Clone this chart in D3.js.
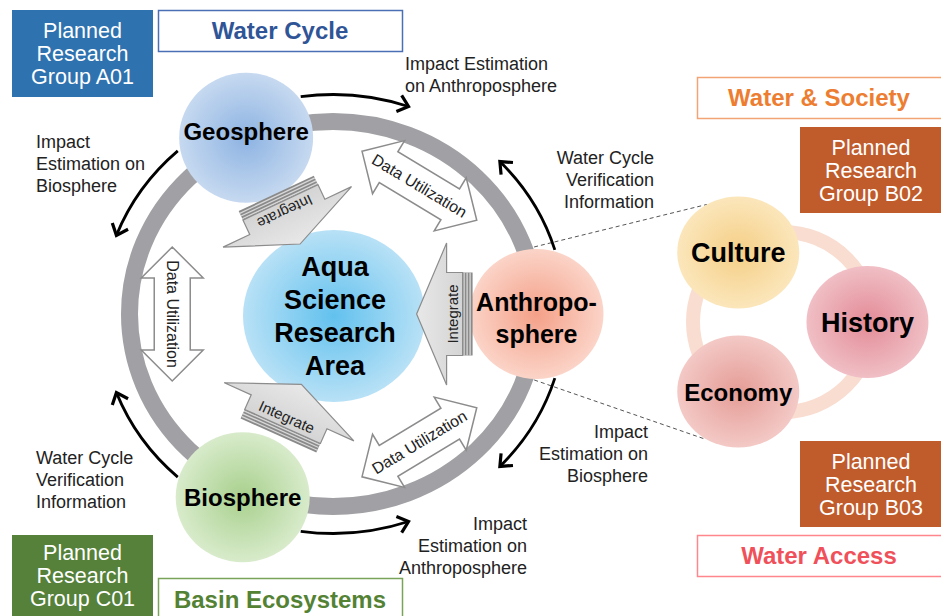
<!DOCTYPE html>
<html>
<head>
<meta charset="utf-8">
<script src="https://cdn.jsdelivr.net/npm/d3@7"></script>
<style>
body { margin: 0; background: #fff; }
svg { display: block; font-family: "Liberation Sans", Arial, sans-serif; }
</style>
</head>
<body>
<div id="chart-area"></div>
<script>
// ---- data ----
var spheres = ["Geosphere", "Anthroposphere", "Biosphere"];
var sphereLines = [["Geosphere"], ["Anthropo-", "sphere"], ["Biosphere"]];
var hubLines = ["Aqua", "Science", "Research", "Area"];

var flowFrom = ["Geosphere", "Geosphere", "Anthroposphere", "Anthroposphere", "Biosphere", "Biosphere"];
var flowTo   = ["Anthroposphere", "Biosphere", "Geosphere", "Biosphere", "Anthroposphere", "Geosphere"];
var flowText = [
    ["Impact Estimation", "on Anthroposphere"],
    ["Impact", "Estimation on", "Biosphere"],
    ["Water Cycle", "Verification", "Information"],
    ["Impact", "Estimation on", "Biosphere"],
    ["Impact", "Estimation on", "Anthroposphere"],
    ["Water Cycle", "Verification", "Information"]
];
var linkLabel = "Data Utilization";
var integrateLabel = "Integrate";

var societyTopics = ["Culture", "History", "Economy"];

var groupNames = [
    ["Planned", "Research", "Group A01"],
    ["Planned", "Research", "Group B02"],
    ["Planned", "Research", "Group B03"],
    ["Planned", "Research", "Group C01"]
];
var themeNames = ["Water Cycle", "Water & Society", "Water Access", "Basin Ecosystems"];

// ---- layout ----
var width = 941, height = 616;
var hub = { x: 333, y: 314, rx: 203.5, ry: 192.5, band: 17 };
var sphereAngle = d3.scaleOrdinal(spheres, [-115, 0, 115]);
var sphereOrbit = d3.scaleOrdinal(spheres, [1.01, 1.0, 1.05]);
var integrateAngle = d3.scaleOrdinal(spheres, [-114, 0, 113]);
var sphereColors = [["#8db3e2", "#c6d9f0"], ["#f4a088", "#fbd4c8"], ["#a8d08d", "#d8ebcb"]];
var hubColors = ["#62c1ee", "#b8e1f6"];

var society = { x: 783, y: 322, r: 82, ring: 90 };
var topicAngle = d3.scaleOrdinal(societyTopics, [-122, 0, 122]);
var topicColors = [["#f5cf86", "#fbe6bb"], ["#e38b97", "#f0bfc5"], ["#e59c96", "#f3c9c6"]];

var groupBox = [[12, 10, 141, 87], [800, 127, 150, 86], [800, 441, 150, 86], [12, 535, 141, 90]];
var groupFill = ["#2e72b0", "#c05b2c", "#c05b2c", "#55813a"];
var themeBox = [[158, 10, 244, 41], [697, 77, 260, 41], [697, 535, 260, 41], [158, 578, 244, 50]];
var themeColor = ["#2f5597", "#ed7d31", "#f0505a", "#548235"];
var themeStroke = ["#4a6fb5", "#f2a475", "#ff868c", "#7aa35a"];

var flowLabelPos = [[405, 70, "start"], [36, 148, "start"], [654, 164, "end"],
                    [648, 438, "end"], [527, 530, "end"], [36, 464, "start"]];

var deg = d3.scaleLinear().domain([0, 180]).range([0, Math.PI]);

function onHub(a, k) {
    return [hub.x + hub.rx * k * Math.cos(deg(a)), hub.y + hub.ry * k * Math.sin(deg(a))];
}

var svg = d3.select("#chart-area")
    .append("svg")
        .attr("width", width)
        .attr("height", height);
var defs = svg.append("defs");

function radial(id, c) {
    var g = defs.append("radialGradient").attr("id", id);
    g.append("stop").attr("offset", "0%").attr("stop-color", c[0]);
    g.append("stop").attr("offset", "100%").attr("stop-color", c[1]);
}
spheres.forEach(function(s, i) { radial("sph" + i, sphereColors[i]); });
radial("hubg", hubColors);
societyTopics.forEach(function(s, i) { radial("top" + i, topicColors[i]); });

var grayGrad = defs.append("linearGradient").attr("id", "intg")
    .attr("x1", "0").attr("y1", "0").attr("x2", "1").attr("y2", "0");
grayGrad.append("stop").attr("offset", "0%").attr("stop-color", "#d4d4d4");
grayGrad.append("stop").attr("offset", "100%").attr("stop-color", "#e8e8e8");

defs.append("marker")
    .attr("id", "head")
    .attr("markerUnits", "userSpaceOnUse")
    .attr("viewBox", "-14 -12 18 24")
    .attr("markerWidth", 18).attr("markerHeight", 24)
    .attr("refX", 0).attr("refY", 0)
    .attr("orient", "auto")
  .append("path")
    .attr("d", "M-10,-8.5 L0,0 L-10,8.5")
    .attr("fill", "none")
    .attr("stroke", "#000")
    .attr("stroke-width", 3.2);

function multiline(sel, lines, x, y, step) {
    lines.forEach(function(l, i) {
        sel.append("tspan").attr("x", x).attr("y", y + i * step).text(l);
    });
}

// ---- boxes ----
groupNames.forEach(function(lines, i) {
    var b = groupBox[i];
    svg.append("rect")
        .attr("x", b[0]).attr("y", b[1]).attr("width", b[2]).attr("height", b[3])
        .attr("fill", groupFill[i]);
    var cx = i === 0 || i === 3 ? b[0] + b[2] / 2 : b[0] + 71;
    var cy = i === 3 ? b[1] + 40.5 : b[1] + b[3] / 2;
    var t = svg.append("text")
        .attr("text-anchor", "middle")
        .attr("font-size", "21.5px")
        .attr("fill", "#fff");
    multiline(t, lines, cx, cy - 23 + 7.5, 23);
});

themeNames.forEach(function(name, i) {
    var b = themeBox[i];
    svg.append("rect")
        .attr("x", b[0] + 0.5).attr("y", b[1] + 0.5).attr("width", b[2]).attr("height", b[3])
        .attr("fill", "#fff")
        .attr("stroke", themeStroke[i])
        .attr("stroke-width", 1.5);
    var cx = i === 1 || i === 2 ? b[0] + 122 : b[0] + b[2] / 2;
    var cy = i === 3 ? b[1] + 21 : b[1] + b[3] / 2;
    svg.append("text")
        .attr("x", cx).attr("y", cy + 8.5)
        .attr("text-anchor", "middle")
        .attr("font-size", "24px")
        .attr("font-weight", "bold")
        .attr("fill", themeColor[i])
        .text(name);
});

// ---- society cluster ----
function topicPos(t) {
    var a = deg(topicAngle(t));
    return [society.x + society.r * 1.03 * Math.cos(a), society.y + society.r * Math.sin(a)];
}
var anthroPos = onHub(sphereAngle("Anthroposphere"), sphereOrbit("Anthroposphere"));

function ellPoint(c, rx, ry, a) {
    return [c[0] + rx * Math.cos(deg(a)), c[1] + ry * Math.sin(deg(a))];
}
var dashPairs = [
    [ellPoint(anthroPos, 66, 66, -98), ellPoint(topicPos("Culture"), 61, 56, -121)],
    [ellPoint(anthroPos, 66, 66, 92), ellPoint(topicPos("Economy"), 61, 57, 124)]
];
svg.selectAll(".dash")
    .data(dashPairs)
    .enter().append("line")
        .attr("class", "dash")
        .attr("x1", function(d) { return d[0][0]; })
        .attr("y1", function(d) { return d[0][1]; })
        .attr("x2", function(d) { return d[1][0]; })
        .attr("y2", function(d) { return d[1][1]; })
        .attr("stroke", "#555")
        .attr("stroke-width", 1)
        .attr("stroke-dasharray", "4,3");

svg.append("circle")
    .attr("cx", society.x).attr("cy", society.y).attr("r", society.ring)
    .attr("fill", "none")
    .attr("stroke", "#f9ddd0")
    .attr("stroke-width", 14);

var topics = svg.selectAll(".topic")
    .data(societyTopics)
    .enter().append("g")
        .attr("class", "topic")
        .attr("transform", function(d) { var p = topicPos(d); return "translate(" + p[0] + "," + p[1] + ")"; });
topics.append("ellipse")
    .attr("rx", 61).attr("ry", 56)
    .attr("fill", function(d, i) { return "url(#top" + i + ")"; });
topics.append("text")
    .attr("y", function(d) { return d === "Economy" ? 9 : 10; })
    .attr("text-anchor", "middle")
    .attr("font-size", function(d) { return d === "Economy" ? "24px" : "27px"; })
    .attr("font-weight", "bold")
    .attr("fill", "#000")
    .text(function(d) { return d; });

// ---- gray ring ----
svg.append("ellipse")
    .attr("cx", hub.x).attr("cy", hub.y)
    .attr("rx", hub.rx).attr("ry", hub.ry)
    .attr("fill", "none")
    .attr("stroke", "#a1a1a5")
    .attr("stroke-width", hub.band);

// ---- flow arrows ----
var arcK = 1.14;
var flows = flowFrom.map(function(f, i) {
    var a = sphereAngle(f), b = sphereAngle(flowTo[i]);
    var diff = ((b - a + 540) % 360) - 180;
    var s = diff > 0 ? 1 : -1;
    return { a0: a + s * 17, a1: a + s * 44, sweep: s > 0 ? 1 : 0 };
});
svg.selectAll(".flow")
    .data(flows)
    .enter().append("path")
        .attr("class", "flow")
        .attr("d", function(d) {
            var p0 = onHub(d.a0, arcK), p1 = onHub(d.a1, arcK);
            return "M" + p0[0] + "," + p0[1] + " A" + (hub.rx * arcK) + "," + (hub.ry * arcK) +
                " 0 0 " + d.sweep + " " + p1[0] + "," + p1[1];
        })
        .attr("fill", "none")
        .attr("stroke", "#000")
        .attr("stroke-width", 2.8)
        .attr("marker-end", "url(#head)");

flowText.forEach(function(lines, i) {
    var p = flowLabelPos[i];
    var t = svg.append("text")
        .attr("text-anchor", p[2])
        .attr("font-size", "18px")
        .attr("fill", "#222");
    multiline(t, lines, p[0], p[1], 22);
});

// ---- data utilization double arrows ----
var midAngles = [-57.5, 57.5, 180];
var dbl = "M-67,0 L-36,-31 L-36,-18 L36,-18 L36,-31 L67,0 L36,31 L36,18 L-36,18 L-36,31 Z";
var links = svg.selectAll(".link")
    .data(midAngles)
    .enter().append("g")
        .attr("class", "link")
        .attr("transform", function(a) {
            var p = onHub(a, 0.79);
            var t = deg(a);
            var rot = Math.atan2(hub.ry * Math.cos(t), -hub.rx * Math.sin(t)) * 180 / Math.PI;
            if (rot > 90) rot -= 180;
            if (rot <= -90) rot += 180;
            return "translate(" + p[0] + "," + p[1] + ") rotate(" + rot + ")";
        });
links.append("path")
    .attr("d", dbl)
    .attr("fill", "#fff")
    .attr("stroke", "#8c8c8c")
    .attr("stroke-width", 1.5);
links.append("text")
    .attr("y", 5.5)
    .attr("text-anchor", "middle")
    .attr("font-size", "16px")
    .attr("fill", "#222")
    .text(linkLabel);

// ---- spheres ----
var sph = svg.selectAll(".sphere")
    .data(spheres)
    .enter().append("g")
        .attr("class", "sphere")
        .attr("transform", function(d) {
            var p = onHub(sphereAngle(d), sphereOrbit(d));
            return "translate(" + p[0] + "," + p[1] + ")";
        });
sph.append("ellipse")
    .attr("rx", 67).attr("ry", 65)
    .attr("fill", function(d, i) { return "url(#sph" + i + ")"; });
sph.each(function(d, i) {
    var lines = sphereLines[i];
    var t = d3.select(this).append("text")
        .attr("text-anchor", "middle")
        .attr("font-size", lines.length > 1 ? "25px" : "24px")
        .attr("font-weight", "bold")
        .attr("fill", "#000");
    var y0 = lines.length > 1 ? -16 + 9 + 4 : (d === "Geosphere" ? 2 : 9);
    multiline(t, lines, 0, y0, 32);
});

// ---- hub circle ----
svg.append("ellipse")
    .attr("cx", hub.x + 1).attr("cy", hub.y + 2)
    .attr("rx", 91).attr("ry", 86)
    .attr("fill", "url(#hubg)");
var ht = svg.append("text")
    .attr("text-anchor", "middle")
    .attr("font-size", "27px")
    .attr("font-weight", "bold")
    .attr("fill", "#000");
multiline(ht, hubLines, hub.x + 2, hub.y + 2 + 9.5 - 49.5, 33);

// ---- integrate arrows ----
var face = "M10,-41.5 L26,-41.5 L26,-71 L56,0 L26,71 L26,41.5 L10,41.5 Z";
var integ = svg.selectAll(".integ")
    .data(spheres)
    .enter().append("g")
        .attr("class", "integ")
        .attr("transform", function(d) {
            var p = onHub(integrateAngle(d), 0.686);
            var dir = Math.atan2(hub.y - p[1], hub.x - p[0]) * 180 / Math.PI;
            return "translate(" + p[0] + "," + p[1] + ") rotate(" + dir + ")";
        });
integ.append("rect")
    .attr("x", 0).attr("y", -41.5).attr("width", 10).attr("height", 83)
    .attr("fill", "#8a8a8a");
[2.5, 5.5, 8.5].forEach(function(x) {
    integ.append("line")
        .attr("x1", x).attr("x2", x).attr("y1", -41.5).attr("y2", 41.5)
        .attr("stroke", "#d8d8d8").attr("stroke-width", 1.3);
});
integ.append("path")
    .attr("d", face)
    .attr("fill", "url(#intg)")
    .attr("stroke", "#8c8c8c")
    .attr("stroke-width", 1.2);
integ.append("text")
    .attr("transform", "translate(20,0) rotate(90)")
    .attr("y", 5)
    .attr("text-anchor", "middle")
    .attr("font-size", "15px")
    .attr("fill", "#222")
    .text(integrateLabel);
</script>
</body>
</html>
